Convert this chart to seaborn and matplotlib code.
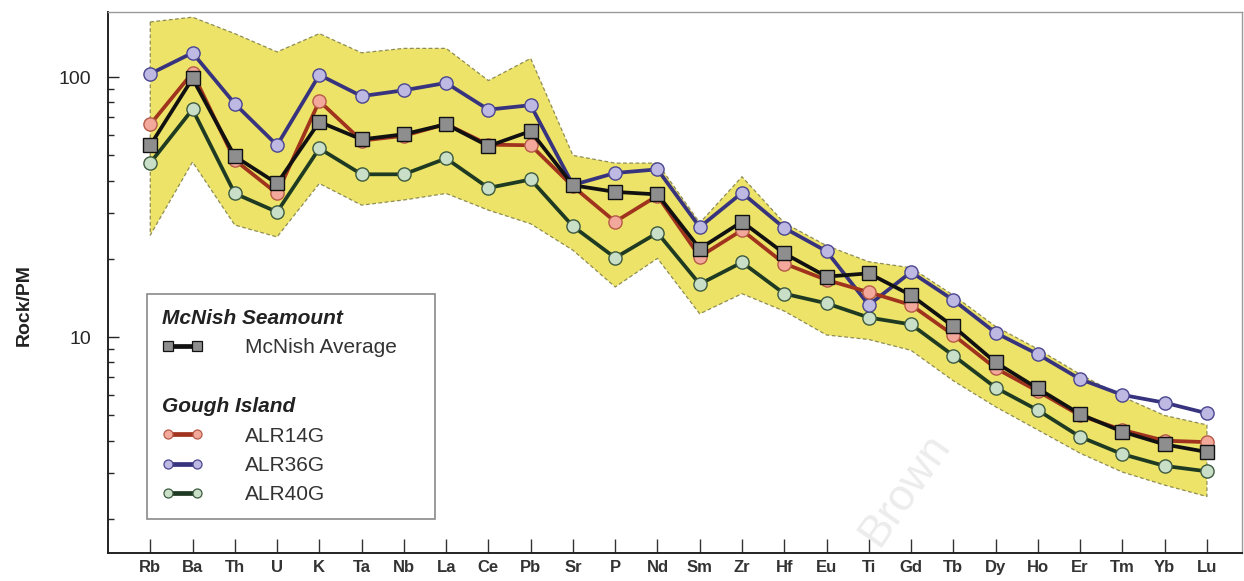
import numpy as np
import pandas as pd
import matplotlib
matplotlib.use("Agg")
import matplotlib.pyplot as plt
from matplotlib.lines import Line2D
import seaborn as sns

# ---------------- data ----------------
elements = ["Rb", "Ba", "Th", "U", "K", "Ta", "Nb", "La", "Ce", "Pb", "Sr", "P", "Nd",
            "Sm", "Zr", "Hf", "Eu", "Ti", "Gd", "Tb", "Dy", "Ho", "Er", "Tm", "Yb", "Lu"]

mcnish_avg = [54.7, 98.8, 49.6, 39.0, 67.3, 57.6, 60.3, 65.9, 54.3, 62.0, 38.4, 36.2, 35.4,
              21.9, 27.8, 21.0, 17.1, 17.6, 14.5, 11.0, 8.0, 6.35, 5.06, 4.33, 3.87, 3.62]
alr14g = [65.8, 104, 48.0, 35.7, 80.9, 57.0, 59.5, 66.0, 55.0, 54.7, 38.0, 27.8, 35.0,
          20.4, 25.8, 19.2, 16.6, 14.9, 13.3, 10.2, 7.6, 6.2, 5.0, 4.4, 4.0, 3.95]
alr36g = [103, 124, 79, 54.7, 102, 84.5, 89, 95, 75, 78, 38.5, 42.8, 44.2,
          26.5, 35.9, 26.3, 21.4, 13.3, 17.8, 13.9, 10.4, 8.6, 6.9, 6.0, 5.6, 5.1]
alr40g = [46.8, 75.2, 35.7, 30.3, 53.2, 42.3, 42.3, 48.7, 37.5, 40.4, 26.7, 20.2, 25.2,
          16.0, 19.4, 14.7, 13.5, 11.9, 11.2, 8.5, 6.4, 5.24, 4.14, 3.55, 3.2, 3.05]
band_upper = [163, 170, 147, 125, 147, 124, 129, 129, 97, 118, 50, 46.7, 46.7,
              27.5, 41.4, 27.5, 22.5, 19.5, 18.5, 14.5, 11.0, 9.0, 7.2, 5.9, 5.0, 4.6]
band_lower = [24.7, 47.2, 27.0, 24.3, 39.0, 32.2, 33.7, 35.7, 30.8, 27.3, 21.6, 15.6, 20.1,
              12.3, 14.7, 12.6, 10.2, 9.8, 8.9, 6.8, 5.4, 4.4, 3.58, 3.03, 2.7, 2.44]

series_names = ["ALR14G", "ALR36G", "ALR40G"]

# ---------------- style ----------------
sns.set_style("white")
plt.rcParams["font.family"] = ["Liberation Sans", "DejaVu Sans"]

fig = plt.figure(figsize=(12.44, 5.81), dpi=100)
ax = fig.add_axes([108 / 1244, 1 - 553 / 581, (1242 - 108) / 1244, (553 - 12) / 581])

df = pd.DataFrame({"pos": np.arange(len(elements)), "element": elements,
                   "McNish Average": mcnish_avg, "ALR14G": alr14g,
                   "ALR36G": alr36g, "ALR40G": alr40g,
                   "upper": band_upper, "lower": band_lower})

# yellow McNish field
ax.fill_between(df["pos"], df["lower"], df["upper"], facecolor="#ece368",
                edgecolor="#8f8c55", linewidth=0.9, linestyle=(0, (3, 2)), zorder=1)

styles = {
    "ALR40G": dict(color="#1e3a22", marker="o", mfc="#c9dfc8", mec="#3d5a40", z=3),
    "ALR36G": dict(color="#38337f", marker="o", mfc="#bdb9e2", mec="#4a4590", z=3),
    "ALR14G": dict(color="#a0331d", marker="o", mfc="#f2a89a", mec="#b65a48", z=4),
    "McNish Average": dict(color="#111111", marker="s", mfc="#8e8e8e", mec="#111111", z=5),
}
for name in ["ALR40G", "ALR36G", "ALR14G", "McNish Average"]:
    st = styles[name]
    sns.lineplot(data=df, x="pos", y=name, ax=ax, sort=False, color=st["color"],
                 linewidth=2.7, marker=st["marker"],
                 markersize=10 if st["marker"] == "s" else 9.5,
                 markerfacecolor=st["mfc"], markeredgecolor=st["mec"],
                 markeredgewidth=1.0, zorder=st["z"], legend=False)

ax.set_yscale("log")
ax.set_ylim(1.48, 178)
ax.set_xlim(-1.0, 25.83)
ax.set_yticks([10, 100])
ax.set_yticklabels(["10", "100"])
ax.yaxis.set_minor_locator(matplotlib.ticker.LogLocator(base=10, subs=np.arange(2, 10)))
ax.yaxis.set_minor_formatter(matplotlib.ticker.NullFormatter())
ax.set_xticks(df["pos"])
ax.set_xticklabels(elements, fontsize=12, fontweight="bold", color="#222222")
ax.tick_params(axis="y", which="major", direction="in", length=8, width=1.0,
               labelsize=14, pad=12, left=True)
ax.tick_params(axis="y", which="minor", direction="in", length=4, width=1.0, left=True)
ax.tick_params(axis="x", which="major", direction="in", length=10, width=1.0,
               pad=5, bottom=True, colors="#333333")
ax.set_xlabel("")
ax.set_ylabel("Rock/PM", fontsize=14, fontweight="bold", color="#222222")
ax.yaxis.set_label_coords(-0.066, 0.458)

for s in ["left", "bottom"]:
    ax.spines[s].set_color("#222222")
    ax.spines[s].set_linewidth(1.4)
for s in ["top", "right"]:
    ax.spines[s].set_color("#9a9a9a")
    ax.spines[s].set_linewidth(1.0)

# ---------------- legend ----------------
def handle(name):
    st = styles[name]
    return Line2D([], [], color=st["color"], lw=3.4, marker=st["marker"], markersize=6.5,
                  markerfacecolor=st["mfc"], markeredgecolor=st["mec"], markeredgewidth=0.9)

blank = Line2D([], [], linestyle="none", marker=None)
handles = [blank, handle("McNish Average"), blank, blank] + [handle(n) for n in series_names]
labels = ["McNish Seamount", "McNish Average", " ", "Gough Island"] + series_names
leg = ax.legend(handles, labels, loc="lower left",
                bbox_to_anchor=(0.0344, 0.0628, 0.254, 0.42), mode="expand",
                borderaxespad=0, numpoints=2, handlelength=2.0, handletextpad=2.0,
                fontsize=15, labelspacing=0.5, borderpad=0.7, frameon=True,
                fancybox=False, edgecolor="#8a8a8a", facecolor="white", framealpha=1)
leg.get_frame().set_linewidth(1.2)
texts = leg.get_texts()
for i in (0, 3):
    texts[i].set_fontstyle("italic")
    texts[i].set_fontweight("bold")
    texts[i].set_color("#222222")
for i in (1, 4, 5, 6):
    texts[i].set_color("#333333")
rows = leg._legend_handle_box.get_children()[0].get_children()
for i in (0, 2, 3):
    hp = rows[i]
    hp.get_children()[0].width = 0
    hp.sep = 0

# faint watermark from the source image
fig.text(905 / 1244, 1 - 490 / 581, "Brown", rotation=55, fontsize=32, color="#ececec",
         ha="center", va="center", zorder=0)

fig.savefig("out.png", dpi=100)
